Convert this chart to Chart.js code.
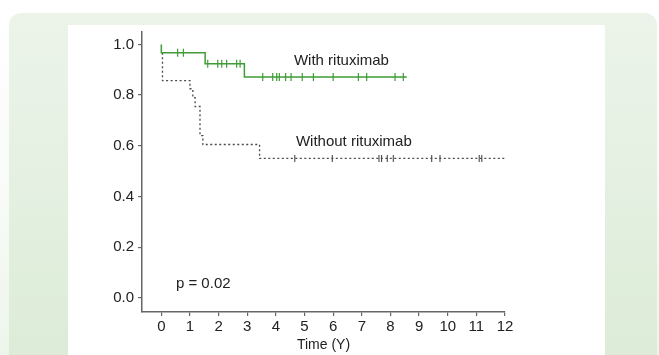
<!DOCTYPE html>
<html><head><meta charset="utf-8">
<script src="https://cdn.jsdelivr.net/npm/chart.js@4/dist/chart.umd.min.js"></script>
<style>
html,body{margin:0;padding:0;width:659px;height:355px;overflow:hidden;background:linear-gradient(#ffffff 0%,#fafcf9 45%,#edf5eb 100%);}
#outer{position:absolute;left:9px;top:13px;width:648px;height:370px;border-radius:12px;background:linear-gradient(#ecf4ea,#dbebd6);}
#inner{position:absolute;left:68px;top:25px;width:537px;height:340px;background:#fff;}
canvas{position:absolute;left:0;top:0;}
</style></head><body>
<div id="outer"></div><div id="inner"></div>
<canvas id="c" width="659" height="355"></canvas>
<script>
// With rituximab: survival step curve
const withTimes = [0, 0, 1.53, 2.9, 8.57];
const withSurv = [1.0, 0.967, 0.924, 0.871, 0.871];
// With rituximab: censored observations
const withCensTimes = [0.57, 0.77, 1.62, 1.97, 2.11, 2.28, 2.63, 2.75, 3.54, 3.89, 4.03, 4.12, 4.34, 4.53, 4.92, 5.31, 6.0, 6.88, 7.17, 8.16, 8.45];
const withCensSurv = [0.967, 0.967, 0.924, 0.924, 0.924, 0.924, 0.924, 0.924, 0.871, 0.871, 0.871, 0.871, 0.871, 0.871, 0.871, 0.871, 0.871, 0.871, 0.871, 0.871, 0.871];
// Without rituximab: survival step curve
const withoutTimes = [0.04, 0.04, 1.0, 1.1, 1.18, 1.35, 1.45, 3.43, 12.05];
const withoutSurv = [0.967, 0.857, 0.825, 0.79, 0.755, 0.64, 0.605, 0.55, 0.55];
// Without rituximab: censored observations
const withoutCensTimes = [4.66, 5.97, 7.6, 7.69, 7.89, 8.1, 9.44, 9.73, 11.1, 11.19];
const withoutCensSurv = [0.55, 0.55, 0.55, 0.55, 0.55, 0.55, 0.55, 0.55, 0.55, 0.55];
// Axis ticks
const xTicks = [0, 1, 2, 3, 4, 5, 6, 7, 8, 9, 10, 11, 12];
const yTicks = [0.0, 0.2, 0.4, 0.6, 0.8, 1.0];
// Annotations
const annoTexts = ["With rituximab", "Without rituximab", "p = 0.02"];
const annoX = [4.63, 4.70, 0.51];
const annoY = [0.937, 0.614, 0.054];

const GREEN = '#3f9c36';
const GRAY = '#4a4a4a';
const FONT = "'Liberation Sans', Arial, sans-serif";
const pts = (xs, ys) => xs.map((x, i) => ({x: x, y: ys[i]}));

const annoPlugin = {
  id: 'anno',
  afterDatasetsDraw(chart) {
    const {ctx, scales: {x, y}} = chart;
    ctx.save();
    ctx.font = "15px " + FONT;
    ctx.fillStyle = '#222';
    ctx.textAlign = 'left';
    ctx.textBaseline = 'middle';
    annoTexts.forEach((t, i) => ctx.fillText(t, x.getPixelForValue(annoX[i]), y.getPixelForValue(annoY[i])));
    ctx.restore();
  }
};

new Chart(document.getElementById('c'), {
  type: 'line',
  data: {
    datasets: [
      {data: pts(withTimes, withSurv), stepped: true, borderColor: GREEN, borderWidth: 1.5, pointRadius: 0, fill: false},
      {data: pts(withCensTimes, withCensSurv), showLine: false, pointStyle: 'line', rotation: 90, pointRadius: 4, borderColor: GREEN, pointBorderColor: GREEN, pointBorderWidth: 1.2},
      {data: pts(withoutTimes, withoutSurv), stepped: true, borderColor: GRAY, borderWidth: 1.3, borderDash: [2, 2.5], pointRadius: 0, fill: false},
      {data: pts(withoutCensTimes, withoutCensSurv), showLine: false, pointStyle: 'line', rotation: 90, pointRadius: 3.5, borderColor: GRAY, pointBorderColor: GRAY, pointBorderWidth: 1.1}
    ]
  },
  options: {
    responsive: false,
    animation: false,
    layout: {padding: {top: 32, right: 154, bottom: 0, left: 0}},
    plugins: {legend: {display: false}, tooltip: {enabled: false}},
    scales: {
      x: {
        type: 'linear', min: -0.675, max: 12,
        afterBuildTicks: s => { s.ticks = xTicks.map(v => ({value: v})); },
        afterFit: s => { s.height = 43; },
        grid: {drawOnChartArea: false, drawTicks: true, tickLength: 4, color: '#666', lineWidth: 1.2},
        border: {display: true, color: '#666', width: 1.5},
        ticks: {color: '#222', font: {family: FONT, size: 15}, padding: 2, maxRotation: 0, autoSkip: false, callback: v => String(v)},
        title: {display: true, text: 'Time (Y)', color: '#222', font: {family: FONT, size: 14}, padding: {top: 0, bottom: 1}}
      },
      y: {
        type: 'linear', min: -0.056, max: 1.049,
        afterBuildTicks: s => { s.ticks = yTicks.map(v => ({value: v})); },
        afterFit: s => { s.width = 142; },
        grid: {drawOnChartArea: false, drawTicks: true, tickLength: 4, color: '#666', lineWidth: 1.2},
        border: {display: true, color: '#666', width: 1.5},
        ticks: {color: '#222', font: {family: FONT, size: 15}, padding: 4, callback: v => v.toFixed(1)}
      }
    }
  },
  plugins: [annoPlugin]
});
</script></body></html>
